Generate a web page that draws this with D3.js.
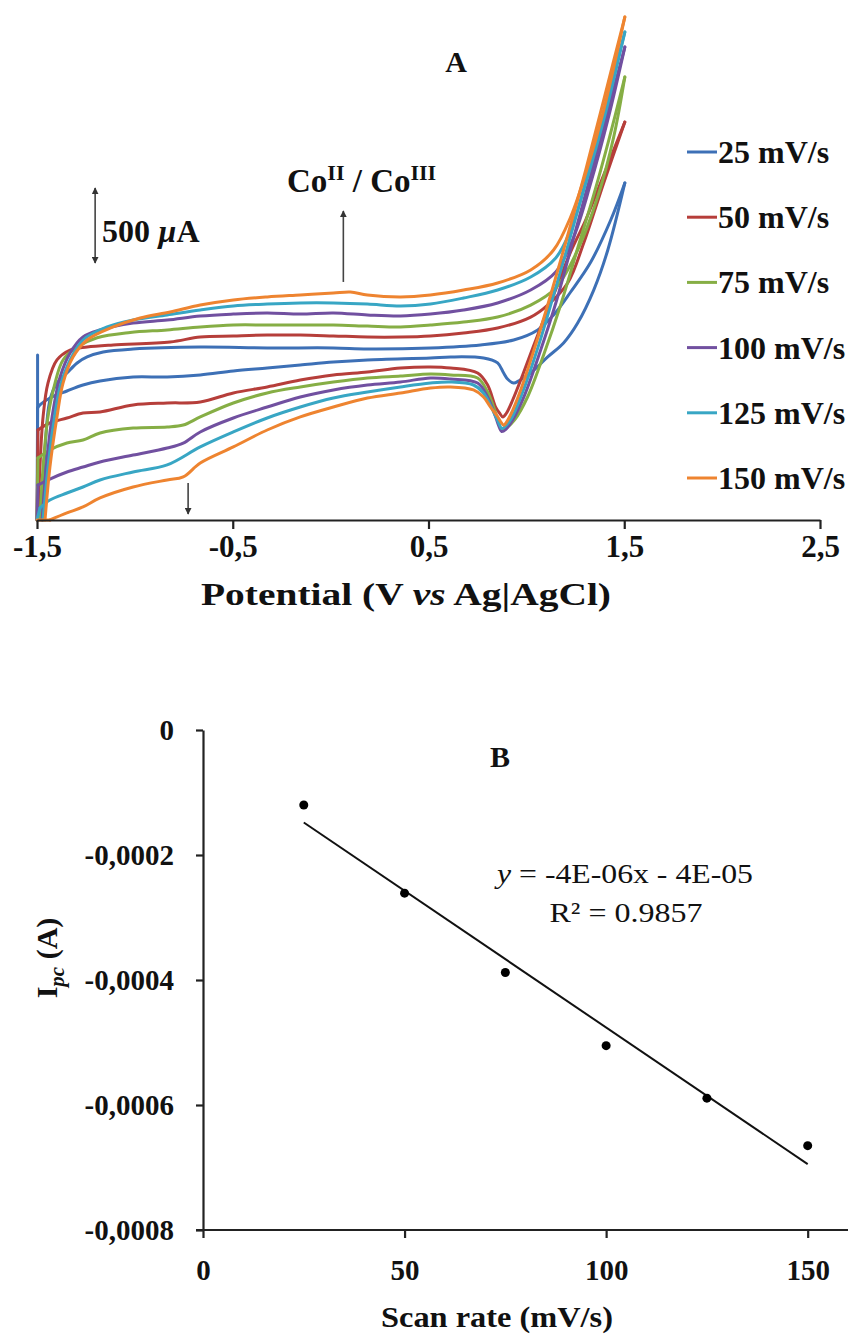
<!DOCTYPE html>
<html><head><meta charset="utf-8">
<script src="https://cdn.jsdelivr.net/npm/d3@7"></script>
<style>
body{margin:0;background:#fff}
svg{display:block;background:#fff}
text{font-family:"Liberation Serif","Times New Roman",serif;font-weight:bold;fill:#111}
</style>
</head><body>
<svg id="c" width="861" height="1338"></svg>
<script>
// ---------- Panel A data : cyclic voltammograms, [potential V, current µA] in scan order ----------
const potentialTicks = [-1.5, -0.5, 0.5, 1.5, 2.5];
const scanRateLabels = ["25 mV/s", "50 mV/s", "75 mV/s", "100 mV/s", "125 mV/s", "150 mV/s"];
const seriesColors = ["#3D70B6", "#B63E3A", "#86AE45", "#7150A0", "#38A6C4", "#EE8430"];

const cv25Start = [[-1.497, -100], [-1.497, -1200]];
const cv25 = [[-1.474,-1200],[-1.459,-733],[-1.434,-400],[-1.398,-287],[-1.347,-220],[-1.295,-153],[-1.244,-113],[-1.162,-80],[-1.009,-60],[-0.666,-47],[-0.324,-53],[0.014,-53],[0.188,-60],[0.510,-53],[0.766,-33],[0.935,0],[1.058,67],[1.139,167],[1.226,320],[1.329,520],[1.431,800],[1.503,1047],
  [1.416,600],[1.344,333],[1.262,113],[1.190,-20],[1.109,-113],[1.022,-220],[0.962,-272],[0.935,-287],[0.905,-262],[0.884,-220],[0.853,-153],[0.781,-120],[0.613,-113],[0.510,-120],[0.188,-133],[0.014,-147],[-0.155,-167],[-0.324,-187],[-0.497,-207],[-0.666,-233],[-0.835,-247],[-1.009,-247],[-1.178,-273],[-1.265,-300],[-1.347,-340],[-1.434,-387],[-1.485,-433],[-1.497,-453],[-1.5,-1200]];
const cv50 = [[-1.495,-1200],[-1.485,-847],[-1.469,-513],[-1.444,-287],[-1.398,-133],[-1.331,-67],[-1.244,-47],[-1.111,-33],[-0.820,-13],[-0.666,20],[-0.497,27],[-0.324,33],[-0.155,33],[0.014,27],[0.188,20],[0.357,20],[0.510,27],[0.679,47],[0.853,80],[1.022,153],[1.109,233],[1.211,380],[1.293,647],[1.395,1047],[1.503,1453],
  [1.395,1100],[1.303,800],[1.226,587],[1.139,300],[1.058,33],[0.981,-233],[0.930,-400],[0.897,-490],[0.880,-513],[0.862,-485],[0.843,-447],[0.802,-300],[0.751,-220],[0.613,-187],[0.510,-180],[0.357,-187],[0.188,-213],[0.014,-233],[-0.155,-267],[-0.324,-313],[-0.497,-353],[-0.666,-413],[-0.835,-420],[-1.009,-433],[-1.178,-480],[-1.265,-487],[-1.347,-520],[-1.434,-553],[-1.495,-600],[-1.5,-1200]];
const cv75 = [[-1.485,-1200],[-1.469,-847],[-1.444,-513],[-1.408,-287],[-1.367,-133],[-1.295,-47],[-1.193,15],[-1.024,50],[-0.835,67],[-0.666,87],[-0.497,100],[-0.324,100],[-0.155,100],[0.014,100],[0.188,93],[0.357,87],[0.510,100],[0.679,120],[0.853,153],[1.022,233],[1.150,347],[1.262,600],[1.364,953],[1.446,1353],[1.503,1753],
  [1.421,1333],[1.344,967],[1.267,633],[1.175,233],[1.088,-100],[1.006,-380],[0.940,-533],[0.900,-585],[0.876,-603],[0.860,-560],[0.843,-487],[0.802,-347],[0.751,-253],[0.613,-233],[0.510,-227],[0.357,-240],[0.188,-253],[0.014,-280],[-0.155,-313],[-0.324,-353],[-0.497,-420],[-0.666,-513],[-0.753,-567],[-0.835,-580],[-1.009,-587],[-1.178,-620],[-1.265,-667],[-1.347,-687],[-1.434,-733],[-1.495,-787],[-1.5,-1200]];
const cv100 = [[-1.474,-1200],[-1.449,-800],[-1.423,-513],[-1.382,-247],[-1.331,-87],[-1.265,20],[-1.178,67],[-1.009,113],[-0.835,133],[-0.666,160],[-0.497,173],[-0.324,180],[-0.155,173],[0.014,180],[0.188,167],[0.357,160],[0.510,173],[0.679,200],[0.853,247],[1.022,333],[1.150,453],[1.242,687],[1.329,1047],[1.416,1467],[1.503,1953],
  [1.411,1500],[1.329,1100],[1.252,733],[1.155,267],[1.073,-67],[0.991,-367],[0.930,-533],[0.895,-595],[0.874,-610],[0.858,-570],[0.843,-513],[0.802,-380],[0.751,-287],[0.613,-260],[0.510,-253],[0.357,-280],[0.188,-300],[0.014,-333],[-0.155,-380],[-0.324,-447],[-0.497,-520],[-0.666,-613],[-0.753,-687],[-0.835,-720],[-1.009,-767],[-1.178,-813],[-1.265,-847],[-1.347,-880],[-1.434,-927],[-1.495,-967],[-1.5,-1200]];
const cv125 = [[-1.469,-1200],[-1.444,-847],[-1.418,-580],[-1.382,-313],[-1.331,-133],[-1.265,0],[-1.142,87],[-1.009,133],[-0.835,167],[-0.666,200],[-0.497,227],[-0.324,240],[-0.155,247],[0.014,247],[0.188,240],[0.357,227],[0.510,240],[0.679,280],[0.853,333],[1.022,420],[1.150,547],[1.226,733],[1.313,1087],[1.395,1467],[1.503,2053],
  [1.405,1567],[1.318,1133],[1.242,767],[1.139,300],[1.063,-33],[0.981,-347],[0.925,-520],[0.893,-575],[0.874,-590],[0.858,-550],[0.833,-480],[0.781,-353],[0.730,-300],[0.613,-280],[0.510,-287],[0.357,-313],[0.188,-347],[0.014,-387],[-0.155,-447],[-0.324,-520],[-0.497,-613],[-0.666,-713],[-0.835,-833],[-1.009,-880],[-1.178,-933],[-1.265,-980],[-1.347,-1020],[-1.434,-1067],[-1.485,-1120],[-1.5,-1200]];
const cv150 = [[-1.459,-1200],[-1.434,-847],[-1.398,-513],[-1.367,-287],[-1.316,-113],[-1.244,0],[-1.111,87],[-0.973,147],[-0.820,187],[-0.666,233],[-0.497,267],[-0.324,287],[-0.155,300],[0.014,313],[0.101,320],[0.188,300],[0.357,287],[0.510,300],[0.679,333],[0.853,380],[1.022,467],[1.139,600],[1.226,820],[1.313,1153],[1.395,1533],[1.503,2153],
  [1.395,1600],[1.303,1133],[1.226,767],[1.124,300],[1.047,-33],[0.971,-333],[0.919,-500],[0.896,-552],[0.884,-568],[0.869,-545],[0.853,-510],[0.817,-447],[0.781,-380],[0.730,-333],[0.613,-313],[0.510,-320],[0.357,-353],[0.188,-387],[0.014,-447],[-0.155,-513],[-0.324,-600],[-0.497,-713],[-0.666,-820],[-0.753,-913],[-0.835,-933],[-1.009,-980],[-1.178,-1053],[-1.265,-1113],[-1.347,-1153],[-1.434,-1200],[-1.5,-1200]];
const cvSeries = [cv25, cv50, cv75, cv100, cv125, cv150];

// ---------- Panel B data : cathodic peak current vs scan rate ----------
const scanRates = [25, 50, 75, 100, 125, 150];
const peakCurrents = [-0.000120, -0.000261, -0.000388, -0.000505, -0.000589, -0.000665];
const scanRateTicks = [0, 50, 100, 150];
const currentTicks = [0, -0.0002, -0.0004, -0.0006, -0.0008];
const equationText = "= -4E-06x - 4E-05";
const r2Text = "R² = 0.9857";

const svg = d3.select("#c");
const INK = "#222";

// ================= Panel A =================
const xA = d3.scaleLinear().domain([-1.5, 2.5]).range([37, 820]);
const yA = d3.scaleLinear().domain([-1200, 2200]).range([520, 10]);

const lineCurve = d3.line().x(d => xA(d[0])).y(d => yA(d[1])).curve(d3.curveCatmullRom.alpha(0.5));
const lineStraight = d3.line().x(d => xA(d[0])).y(d => yA(d[1]));

const gCurves = svg.append("g").attr("fill", "none").attr("stroke-width", 3).attr("stroke-linejoin", "round").attr("stroke-linecap", "round");
gCurves.append("path").attr("d", lineStraight(cv25Start)).attr("stroke", seriesColors[0]);
cvSeries.forEach((pts, i) => {
  let tip = 0;
  pts.forEach((p, k) => { if (p[0] > pts[tip][0]) tip = k; });
  const n = pts.length;
  gCurves.append("path").attr("d", lineCurve(pts.slice(0, tip + 1))).attr("stroke", seriesColors[i]);
  gCurves.append("path").attr("d", lineCurve(pts.slice(tip, n - 1))).attr("stroke", seriesColors[i]);
  gCurves.append("path").attr("d", lineStraight(pts.slice(n - 2))).attr("stroke", seriesColors[i]);
});

const axA = svg.append("g").attr("transform", "translate(0,520)")
  .call(d3.axisBottom(xA).tickValues(potentialTicks).tickSize(9).tickSizeOuter(0)
    .tickFormat(d => d3.format(".1f")(d).replace(".", ",").replace("−", "-")));
axA.select(".domain").attr("stroke", INK).attr("stroke-width", 2.2);
axA.selectAll(".tick line").attr("stroke", INK).attr("stroke-width", 2.2);
axA.selectAll(".tick text").attr("y", 37).attr("dy", null)
  .style("font-family", '"Liberation Serif",serif').style("font-weight", "bold").style("font-size", "31px").attr("fill", "#111");

const titleA = svg.append("text").attr("x", 406).attr("y", 605).attr("text-anchor", "middle")
  .style("font-size", "32px").attr("textLength", 410).attr("lengthAdjust", "spacingAndGlyphs");
titleA.append("tspan").text("Potential (V ");
titleA.append("tspan").style("font-style", "italic").text("vs");
titleA.append("tspan").text(" Ag|AgCl)");

svg.append("text").attr("x", 456).attr("y", 72).attr("text-anchor", "middle").style("font-size", "30px").text("A");

// Co(II)/Co(III) label
const co = svg.append("text").attr("x", 287).attr("y", 192).style("font-size", "33px");
co.append("tspan").text("Co");
co.append("tspan").attr("dy", -12).style("font-size", "22px").text("II");
co.append("tspan").attr("dy", 12).text(" / Co");
co.append("tspan").attr("dy", -12).style("font-size", "22px").text("III");

// arrows
const defs = svg.append("defs");
defs.append("marker").attr("id", "ah").attr("viewBox", "0 0 10 10").attr("refX", 9).attr("refY", 5)
  .attr("markerWidth", 7).attr("markerHeight", 7).attr("markerUnits", "userSpaceOnUse").attr("orient", "auto-start-reverse")
  .append("path").attr("d", "M0,0 L10,5 L0,10 z").attr("fill", "#333");

function arrow(v, i1, i2, both) {
  const l = svg.append("line").attr("x1", xA(v)).attr("x2", xA(v)).attr("y1", yA(i1)).attr("y2", yA(i2))
    .attr("stroke", "#444").attr("stroke-width", 1.6).attr("marker-end", "url(#ah)");
  if (both) l.attr("marker-start", "url(#ah)");
}
arrow(0.065, 387, 860, false);          // oxidation arrow
arrow(-0.728, -953, -1160, false);      // reduction arrow
arrow(-1.203, 513, 1013, true);         // 500 µA scale bar

const sb = svg.append("text").attr("x", 102).attr("y", 242).style("font-size", "32px");
sb.append("tspan").text("500 ");
sb.append("tspan").style("font-style", "italic").text("µ");
sb.append("tspan").text("A");

// legend
const leg = svg.append("g");
scanRateLabels.forEach((lab, i) => {
  const cy = 152 + i * 65.2;
  leg.append("line").attr("x1", 687).attr("x2", 717).attr("y1", cy).attr("y2", cy)
    .attr("stroke", seriesColors[i]).attr("stroke-width", 3);
  leg.append("text").attr("x", 718).attr("y", cy + 11).style("font-size", "32px").text(lab);
});

// ================= Panel B =================
const xB = d3.scaleLinear().domain([0, 160]).range([203, 848]);
const yB = d3.scaleLinear().domain([-0.0008, 0]).range([1230, 730]);

const axBx = svg.append("g").attr("transform", "translate(0,1230)")
  .call(d3.axisBottom(xB).tickValues(scanRateTicks).tickSize(8).tickSizeOuter(0).tickFormat(d3.format("d")));
axBx.select(".domain").attr("stroke", INK).attr("stroke-width", 2.2).attr("d", "M196,0H848");
axBx.selectAll(".tick line").attr("stroke", INK).attr("stroke-width", 2.2);
axBx.selectAll(".tick text").attr("y", 50).attr("dy", null)
  .style("font-family", '"Liberation Serif",serif').style("font-weight", "bold").style("font-size", "29px").attr("fill", "#111");

const axBy = svg.append("g").attr("transform", "translate(203,0)")
  .call(d3.axisLeft(yB).tickValues(currentTicks).tickSize(7).tickSizeOuter(0)
    .tickFormat(d => d === 0 ? "0" : d.toFixed(4).replace(".", ",").replace("−", "-")));
axBy.select(".domain").attr("stroke", INK).attr("stroke-width", 2.2);
axBy.selectAll(".tick line").attr("stroke", INK).attr("stroke-width", 2.2);
axBy.selectAll(".tick text").attr("x", -29).attr("dy", "0.33em")
  .style("font-family", '"Liberation Serif",serif').style("font-weight", "bold").style("font-size", "29px").attr("fill", "#111");

// regression trendline from the data
const mx = d3.mean(scanRates), my = d3.mean(peakCurrents);
const sxy = d3.sum(scanRates, (x, k) => (x - mx) * (peakCurrents[k] - my));
const sxx = d3.sum(scanRates, x => (x - mx) * (x - mx));
const slope = sxy / sxx, icpt = my - slope * mx;
const x0 = d3.min(scanRates), x1 = d3.max(scanRates);
svg.append("line").attr("x1", xB(x0)).attr("y1", yB(icpt + slope * x0)).attr("x2", xB(x1)).attr("y2", yB(icpt + slope * x1))
  .attr("stroke", "#111").attr("stroke-width", 2);

svg.append("g").selectAll("circle").data(scanRates).join("circle")
  .attr("cx", d => xB(d)).attr("cy", (d, k) => yB(peakCurrents[k])).attr("r", 4.5).attr("fill", "#000");

svg.append("text").attr("x", 500).attr("y", 767).attr("text-anchor", "middle").style("font-size", "30px").text("B");

const eq = svg.append("text").attr("x", 625).attr("y", 883).attr("text-anchor", "middle").style("font-size", "28px").style("font-weight", "normal")
  .attr("textLength", 256).attr("lengthAdjust", "spacingAndGlyphs");
eq.append("tspan").style("font-style", "italic").text("y ");
eq.append("tspan").text(equationText);
svg.append("text").attr("x", 626).attr("y", 922).attr("text-anchor", "middle").style("font-size", "28px").style("font-weight", "normal")
  .attr("textLength", 153).attr("lengthAdjust", "spacingAndGlyphs").text(r2Text);

svg.append("text").attr("x", 497).attr("y", 1327).attr("text-anchor", "middle").style("font-size", "29px")
  .attr("textLength", 232).attr("lengthAdjust", "spacingAndGlyphs").text("Scan rate (mV/s)");

const yl = svg.append("text").attr("transform", "translate(57,958) rotate(-90)").attr("text-anchor", "middle").style("font-size", "30px");
yl.append("tspan").text("I");
yl.append("tspan").attr("dy", 7).style("font-size", "21px").style("font-style", "italic").text("pc");
yl.append("tspan").attr("dy", -7).text(" (A)");
</script>
</body></html>
